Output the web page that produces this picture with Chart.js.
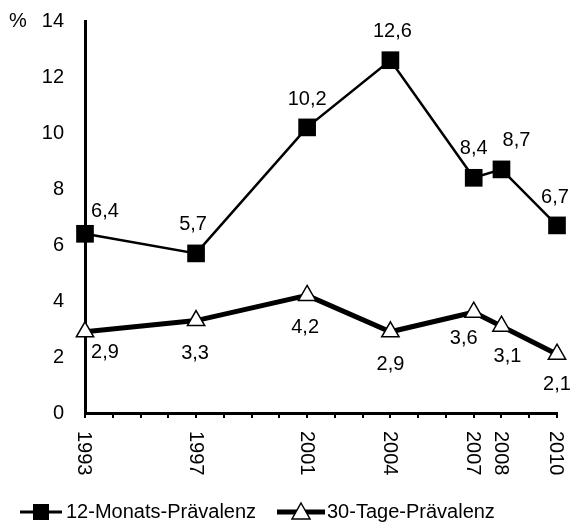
<!DOCTYPE html>
<html>
<head>
<meta charset="utf-8">
<script src="https://cdn.jsdelivr.net/npm/chart.js@4.4.1/dist/chart.umd.min.js"></script>
<style>
  html, body { margin: 0; padding: 0; background: #fff; }
  #wrap { width: 573px; height: 525px; position: relative; }
</style>
</head>
<body>
<div id="wrap"><canvas id="c" width="573" height="525"></canvas></div>
<script>
// ---- data ----
const years = [1993, 1997, 2001, 2004, 2007, 2008, 2010];
const monthly12 = [6.4, 5.7, 10.2, 12.6, 8.4, 8.7, 6.7];
const days30 = [2.9, 3.3, 4.2, 2.9, 3.6, 3.1, 2.1];
const seriesNames = ['12-Monats-Prävalenz', '30-Tage-Prävalenz'];
const yUnit = '%';
const yMin = 0, yMax = 14, yStep = 2;

const FONT = '"Liberation Sans", Arial, sans-serif';
const fmt = v => v.toFixed(1).replace('.', ',');

// label placement (styling only): [dx, dy] relative to point
const labelOffsets = [
  [[20, -22], [-3, -29], [0, -28], [2, -29], [0, -29], [15, -29], [-2, -28]],
  [[20, 21], [-1, 33], [-2, 32], [0, 33], [-10, 26], [6, 30], [0, 30]]
];

const toXY = vals => years.map((yr, i) => ({ x: yr, y: vals[i] }));

const customPlugin = {
  id: 'custom',
  afterDatasetsDraw(chart) {
    const ctx = chart.ctx;
    const xs = chart.scales.x, ys = chart.scales.y;
    ctx.save();
    ctx.fillStyle = '#000';
    ctx.font = '20px ' + FONT;
    ctx.textAlign = 'center';
    ctx.textBaseline = 'middle';
    [monthly12, days30].forEach((vals, di) => {
      vals.forEach((v, i) => {
        const px = xs.getPixelForValue(years[i]);
        const py = ys.getPixelForValue(v);
        const o = labelOffsets[di][i];
        ctx.fillText(fmt(v), px + o[0], py + o[1]);
      });
    });
    // x labels rotated clockwise
    years.forEach(yr => {
      const px = xs.getPixelForValue(yr);
      ctx.save();
      ctx.translate(px, ys.bottom + 18);
      ctx.rotate(Math.PI / 2);
      ctx.textAlign = 'left';
      ctx.textBaseline = 'middle';
      ctx.fillText(String(yr), 0, 1);
      ctx.restore();
    });
    // unit label
    ctx.textAlign = 'left';
    ctx.fillText(yUnit, 9, ys.getPixelForValue(yMax));
    // legend
    const ly = 512;
    ctx.strokeStyle = '#000';
    ctx.lineWidth = 3;
    ctx.beginPath(); ctx.moveTo(20, ly); ctx.lineTo(62, ly); ctx.stroke();
    ctx.fillRect(41 - 8, ly - 8, 16, 16);
    ctx.textAlign = 'left';
    ctx.fillText(seriesNames[0], 66, ly);
    ctx.lineWidth = 5;
    ctx.beginPath(); ctx.moveTo(277, ly); ctx.lineTo(325, ly); ctx.stroke();
    ctx.beginPath();
    ctx.moveTo(301, ly - 9); ctx.lineTo(310, ly + 7); ctx.lineTo(292, ly + 7); ctx.closePath();
    ctx.fillStyle = '#fff'; ctx.fill();
    ctx.lineWidth = 1.5; ctx.stroke();
    ctx.fillStyle = '#000';
    ctx.fillText(seriesNames[1], 327, ly);
    ctx.restore();
  }
};

new Chart(document.getElementById('c'), {
  type: 'line',
  data: {
    datasets: [
      {
        label: seriesNames[0],
        data: toXY(monthly12),
        borderColor: '#000',
        borderWidth: 2.5,
        pointStyle: 'rect',
        pointRadius: 12.5,
        pointBackgroundColor: '#000',
        pointBorderColor: '#000',
        pointBorderWidth: 0,
        tension: 0,
        clip: false,
        order: 1
      },
      {
        label: seriesNames[1],
        data: toXY(days30),
        borderColor: '#000',
        borderWidth: 5,
        pointStyle: 'triangle',
        pointRadius: 10,
        pointBackgroundColor: '#fff',
        pointBorderColor: '#000',
        pointBorderWidth: 1.5,
        tension: 0,
        clip: false,
        order: 2
      }
    ]
  },
  options: {
    responsive: false,
    animation: false,
    devicePixelRatio: 1,
    layout: { padding: { top: 21, right: 16, left: 0, bottom: 0 } },
    plugins: { legend: { display: false }, tooltip: { enabled: false } },
    scales: {
      x: {
        type: 'linear',
        min: years[0],
        max: years[years.length - 1],
        ticks: { stepSize: 1, display: false },
        grid: { display: true, drawOnChartArea: false, drawTicks: true, tickLength: 5, color: '#000', lineWidth: 2 },
        border: { display: true, color: '#000', width: 3 },
        afterFit(s) { s.height = 112; s.paddingLeft = 0; s.paddingRight = 0; }
      },
      y: {
        min: yMin,
        max: yMax,
        ticks: { stepSize: yStep, color: '#000', font: { family: FONT, size: 20 }, padding: 21 },
        grid: { display: false, drawTicks: false },
        border: { display: true, color: '#000', width: 3 },
        afterFit(s) { s.width = 85; s.paddingTop = 0; s.paddingBottom = 0; }
      }
    }
  },
  plugins: [customPlugin]
});
</script>
</body>
</html>
